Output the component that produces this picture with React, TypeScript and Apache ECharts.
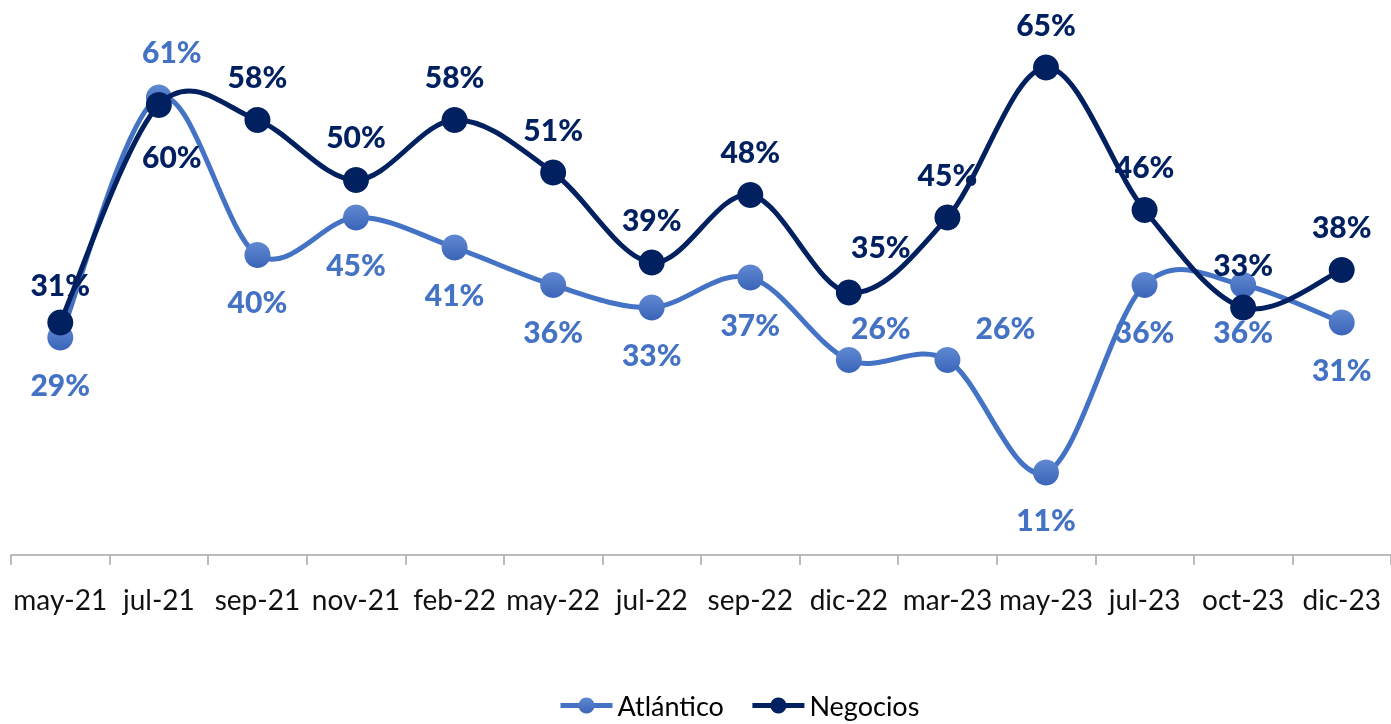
import React, { useEffect, useRef } from "react";
import * as echarts from "echarts";

const categories = [
  "may-21", "jul-21", "sep-21", "nov-21", "feb-22", "may-22", "jul-22",
  "sep-22", "dic-22", "mar-23", "may-23", "jul-23", "oct-23", "dic-23",
];
const atlantico = [29, 61, 40, 45, 41, 36, 33, 37, 26, 26, 11, 36, 36, 31];
const negocios = [31, 60, 58, 50, 58, 51, 39, 48, 35, 45, 65, 46, 33, 38];

// label placement tweaks (dx, dy from point centre)
const atlOffsets: Record<number, [number, number]> = {
  1: [13, -47],
  8: [32, -33],
  9: [58, -33],
};
const negOffsets: Record<number, [number, number]> = {
  0: [0, -39],
  1: [13, 51],
  8: [32, -47],
};

const ATL = "#4472C4";
const NEG = "#002060";
const FONT = "Lato, 'DejaVu Sans', sans-serif";

function curveSeries(name: string, vals: number[], color: string, z: number) {
  return {
    name,
    type: "custom",
    coordinateSystem: "cartesian2d",
    data: vals.map((v, i) => [i, v]),
    encode: { x: 0, y: 1 },
    silent: true,
    z,
    renderItem: (params: any, api: any) => {
      const i = params.dataIndex;
      const n = vals.length;
      if (i >= n - 1) return { type: "group", children: [] };
      const p = (k: number) => {
        const kk = Math.max(0, Math.min(n - 1, k));
        return api.coord([kk, vals[kk]]);
      };
      const p0 = p(i - 1), p1 = p(i), p2 = p(i + 1), p3 = p(i + 2);
      const t = 6;
      return {
        type: "bezierCurve",
        shape: {
          x1: p1[0], y1: p1[1],
          x2: p2[0], y2: p2[1],
          cpx1: p1[0] + (p2[0] - p0[0]) / t,
          cpy1: p1[1] + (p2[1] - p0[1]) / t,
          cpx2: p2[0] - (p3[0] - p1[0]) / t,
          cpy2: p2[1] - (p3[1] - p1[1]) / t,
        },
        style: { stroke: color, lineWidth: 5, fill: null, lineCap: "round" },
      };
    },
  };
}

export default function App() {
  const ref = useRef<HTMLDivElement>(null);
  useEffect(() => {
    if (!ref.current) return;
    const chart = echarts.init(ref.current, undefined, { renderer: "svg" });
    const mk = (vals: number[], offs: Record<number, [number, number]>, base: [number, number]) =>
      vals.map((v, i) => ({
        value: v,
        label: { offset: offs[i] ?? base },
      }));
    const labelStyle = (color: string) => ({
      show: true,
      position: "inside",
      formatter: "{c}%",
      fontFamily: FONT,
      fontWeight: 900,
      fontSize: 30,
      color,
    });
    chart.setOption({
      animation: false,
      grid: { left: 11, right: 0, top: 30, bottom: 169, containLabel: false },
      legend: {
        bottom: 0,
        left: 553,
        itemWidth: 52,
        itemHeight: 20,
        itemGap: 26,
        lineStyle: { width: 5, opacity: 1 },
        textStyle: { fontFamily: FONT, fontSize: 27, color: "#000" },
        data: ["Atlántico", "Negocios"],
      },
      xAxis: {
        type: "category",
        data: categories,
        boundaryGap: true,
        axisLine: { show: true, lineStyle: { color: "#a6a6a6", width: 1.5 } },
        axisTick: {
          show: true,
          alignWithLabel: false,
          interval: 0,
          length: 10,
          lineStyle: { color: "#a6a6a6", width: 1.5 },
        },
        axisLabel: {
          interval: 0,
          margin: 30,
          fontFamily: FONT,
          fontSize: 28,
          color: "#111",
        },
      },
      yAxis: {
        type: "value",
        min: 0,
        max: 70,
        show: false,
        splitLine: { show: false },
      },
      series: [
        curveSeries("Atlántico curve", atlantico, ATL, 1),
        {
          name: "Atlántico",
          type: "line",
          data: mk(atlantico, atlOffsets, [0, 46]),
          symbol: "circle",
          symbolSize: 26,
          lineStyle: { color: ATL, width: 5, opacity: 0 },
          itemStyle: {
            color: new echarts.graphic.LinearGradient(0, 0, 0, 1, [
              { offset: 0, color: "#6189d2" },
              { offset: 1, color: "#3a64b8" },
            ]),
            borderWidth: 0,
          },
          label: labelStyle(ATL),
          z: 2,
        },
        curveSeries("Negocios curve", negocios, NEG, 3),
        {
          name: "Negocios",
          type: "line",
          data: mk(negocios, negOffsets, [0, -44]),
          symbol: "circle",
          symbolSize: 26,
          lineStyle: { color: NEG, width: 5, opacity: 0 },
          itemStyle: { color: NEG, borderWidth: 0 },
          label: labelStyle(NEG),
          z: 4,
        },
      ],
    });
    return () => chart.dispose();
  }, []);
  return (
    <div
      ref={ref}
      style={{ position: "fixed", left: 0, top: 0, width: 1391, height: 724 }}
    />
  );
}
